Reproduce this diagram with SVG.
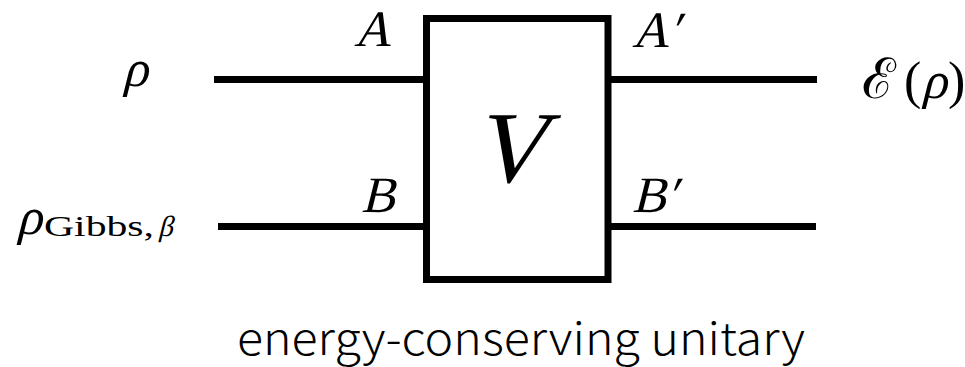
<svg xmlns="http://www.w3.org/2000/svg" width="965" height="367" viewBox="0 0 965 367">
<style>
.wire{stroke:#000;stroke-width:7;fill:none}
.box{stroke:#000;stroke-width:7;fill:#fff}
.m{font-family:"Liberation Serif","Times New Roman",serif;font-style:normal;fill:#000}
.r{font-family:"Liberation Serif","Times New Roman",serif;fill:#000}
.cap{font-family:"Noto Sans CJK JP","Noto Sans",sans-serif;font-weight:300;fill:#000}
</style>
<rect width="965" height="367" fill="#fff"/>
<g id="connectors">
<line class="wire" x1="214" y1="79.5" x2="426" y2="79.5"/>
<line class="wire" x1="218" y1="226.5" x2="426" y2="226.5"/>
<line class="wire" x1="608" y1="79.5" x2="817" y2="79.5"/>
<line class="wire" x1="608" y1="226.5" x2="816" y2="226.5"/>
</g>
<g id="V">
<rect class="box" x="426.5" y="18.5" width="181.5" height="261"/>
<text class="m" transform="translate(472,182) skewX(-14)" font-size="102">V</text>
</g>
<g id="input-rho">
<text class="m" transform="translate(122,86) skewX(-14)" font-size="52">ρ</text>
<text class="m" transform="translate(354,46) skewX(-14)" font-size="51">A</text>
</g>
<g id="input-gibbs">
<text class="m" transform="translate(16,234) skewX(-14)" font-size="52">ρ</text>
<text class="r" x="44" y="236" font-size="29" textLength="110" lengthAdjust="spacingAndGlyphs">Gibbs,</text>
<text class="m" transform="translate(158,236) skewX(-14)" font-size="29">β</text>
<text class="m" transform="translate(361,212) skewX(-14)" font-size="51">B</text>
</g>
<g id="output-A">
<text class="m" transform="translate(632,47) skewX(-14)" font-size="51">A′</text>
<text class="m" x="862" y="98" font-size="56" font-family="DejaVu Serif">ℰ</text>
<text class="r" x="904" y="98" font-size="52">(</text>
<text class="m" transform="translate(921,98) skewX(-14)" font-size="52">ρ</text>
<text class="r" x="948" y="98" font-size="52">)</text>
</g>
<g id="output-B">
<text class="m" transform="translate(632,212) skewX(-14)" font-size="51">B′</text>
</g>
<g id="caption">
<text class="cap" x="237" y="355" font-size="45" textLength="568" lengthAdjust="spacingAndGlyphs">energy-conserving unitary</text>
</g>
</svg>
